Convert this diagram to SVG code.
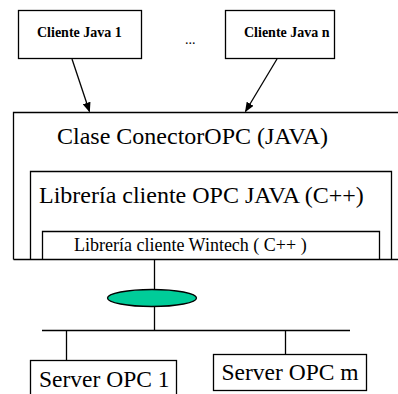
<svg xmlns="http://www.w3.org/2000/svg" width="398" height="394" viewBox="0 0 398 394">
<defs>
<style>
.box{fill:#fff;stroke:#000;stroke-width:1.3}
.ln{stroke:#000;stroke-width:1.3;fill:none}
.t{font-family:"Liberation Serif","Times New Roman",serif;fill:#000}
.b{font-weight:bold;font-size:14px}
</style>
<marker id="ah" markerWidth="10" markerHeight="8" refX="9" refY="4" orient="auto" markerUnits="userSpaceOnUse">
<path d="M0,0 L10,4 L0,8 Z" fill="#000"/>
</marker>
</defs>
<rect width="398" height="394" fill="#fff"/>
<g id="cliente1">
<rect class="box" x="18.5" y="10.5" width="123" height="48"/>
<text class="t b" x="37" y="37">Cliente Java 1</text>
</g>
<g id="dots">
<text class="t" x="185" y="44" font-size="14">...</text>
</g>
<g id="clienten">
<rect class="box" x="225.5" y="10.5" width="109" height="48"/>
<text class="t b" x="244" y="37" font-size="13.8">Cliente Java n</text>
</g>
<g id="conector">
<path class="ln" d="M400,112.5 H13.5 V259.5"/>
<text class="t" x="57" y="144" font-size="24">Clase ConectorOPC (JAVA)</text>
</g>
<g id="libjava">
<path class="ln" d="M30.5,259.5 V171.5 H391.5 V259.5"/>
<text class="t" x="39" y="203" font-size="24">Librería cliente OPC JAVA (C++)</text>
</g>
<g id="wintech">
<path class="ln" d="M42.5,259.5 V231.5 H379.5 V259.5"/>
<text class="t" x="74" y="251" font-size="18">Librería cliente Wintech ( C++ )</text>
</g>
<g id="red">
<ellipse cx="152" cy="298" rx="44.5" ry="8.5" fill="#00CC99" stroke="#000" stroke-width="1.3"/>
</g>
<g id="server1">
<rect class="box" x="30.5" y="360.5" width="146" height="40"/>
<text class="t" x="39" y="387" font-size="23.5">Server OPC 1</text>
</g>
<g id="serverm">
<rect class="box" x="213.5" y="354.5" width="153" height="36"/>
<text class="t" x="221.5" y="380" font-size="23.5">Server OPC m</text>
</g>
<g id="connectors">
<line class="ln" x1="72" y1="59" x2="89.5" y2="111.5" marker-end="url(#ah)"/>
<line class="ln" x1="277" y1="59" x2="245.5" y2="111.5" marker-end="url(#ah)"/>
<path class="ln" d="M13.5,259.5 H398"/>
<line class="ln" x1="154.5" y1="259.5" x2="154.5" y2="289.5"/>
<line class="ln" x1="154.5" y1="306.5" x2="154.5" y2="330.5"/>
<line class="ln" x1="42" y1="330.5" x2="350" y2="330.5"/>
<line class="ln" x1="66.5" y1="330.5" x2="66.5" y2="360.5"/>
<line class="ln" x1="285.5" y1="330.5" x2="285.5" y2="354.5"/>
</g>
</svg>
